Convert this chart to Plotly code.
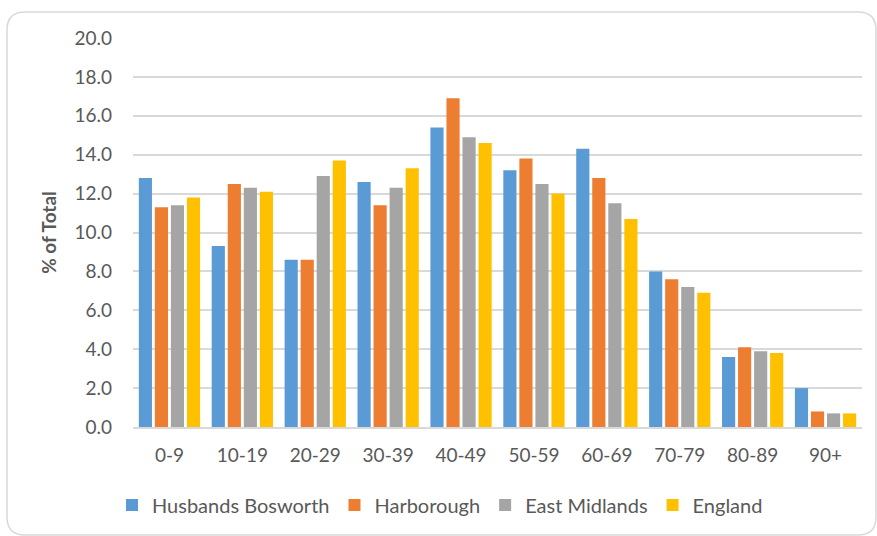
import plotly.graph_objects as go

categories = ["0-9", "10-19", "20-29", "30-39", "40-49", "50-59", "60-69", "70-79", "80-89", "90+"]
husbands_bosworth = [12.8, 9.3, 8.6, 12.6, 15.4, 13.2, 14.3, 8.0, 3.6, 2.0]
harborough = [11.3, 12.5, 8.6, 11.4, 16.9, 13.8, 12.8, 7.6, 4.1, 0.8]
east_midlands = [11.4, 12.3, 12.9, 12.3, 14.9, 12.5, 11.5, 7.2, 3.9, 0.7]
england = [11.8, 12.1, 13.7, 13.3, 14.6, 12.0, 10.7, 6.9, 3.8, 0.7]

series_names = ["Husbands Bosworth", "Harborough", "East Midlands", "England"]
series_values = [husbands_bosworth, harborough, east_midlands, england]
colors = ["#5B9BD5", "#ED7D31", "#A5A5A5", "#FFC000"]
y_ticks = [0, 2, 4, 6, 8, 10, 12, 14, 16, 18, 20]

font_family = "Lato, 'Open Sans', sans-serif"
text_color = "#595959"

fig = go.Figure()
for name, vals, col in zip(series_names, series_values, colors):
    fig.add_trace(go.Bar(x=categories, y=vals, name=name, marker=dict(color=col, line=dict(width=0))))

W, H = 877, 536
L, R, T, B = 133, 15, 38, 109
pw, ph = W - L - R, H - T - B

def px(x):
    return (x - L) / pw

def py(y):
    return (H - B - y) / ph

x0, x1, y0, y1 = px(7), px(876), py(535), py(12)
rx, ry = 18 / pw, 18 / ph
path = (f"M {x0+rx} {y1} L {x1-rx} {y1} Q {x1} {y1} {x1} {y1-ry} "
        f"L {x1} {y0+ry} Q {x1} {y0} {x1-rx} {y0} L {x0+rx} {y0} "
        f"Q {x0} {y0} {x0} {y0+ry} L {x0} {y1-ry} Q {x0} {y1} {x0+rx} {y1} Z")

fig.update_layout(
    width=W, height=H,
    margin=dict(l=L, r=R, t=T, b=B),
    paper_bgcolor="white", plot_bgcolor="white",
    barmode="group", bargap=0.12, bargroupgap=0.18,
    font=dict(family=font_family, color=text_color, size=19),
    showlegend=True,
    legend=dict(orientation="h", x=px(112), xanchor="left", y=py(505), yanchor="middle",
                font=dict(size=20, color=text_color), itemwidth=30,
                traceorder="normal"),
    shapes=[dict(type="path", path=path, xref="paper", yref="paper",
                 line=dict(color="#D9D9D9", width=1.5), fillcolor="rgba(0,0,0,0)", layer="below")],
    xaxis=dict(showgrid=False, showline=True, linecolor="#D9D9D9", linewidth=2,
               ticks="", tickfont=dict(size=19, color=text_color), ticklabelstandoff=10),
    yaxis=dict(range=[0, 20], tickvals=y_ticks, ticktext=[f"{v:.1f}" for v in y_ticks],
               showgrid=True, gridcolor="#D9D9D9", gridwidth=1.5, zeroline=False,
               showline=False, ticks="", ticklabelstandoff=20,
               tickfont=dict(size=19, color=text_color),
               title=dict(text="<b>% of Total</b>", font=dict(size=19, color=text_color), standoff=12)),
)

fig.write_html("out.html", config={"displayModeBar": False},
               post_script="document.body.style.margin='0';document.body.style.overflow='hidden';")
